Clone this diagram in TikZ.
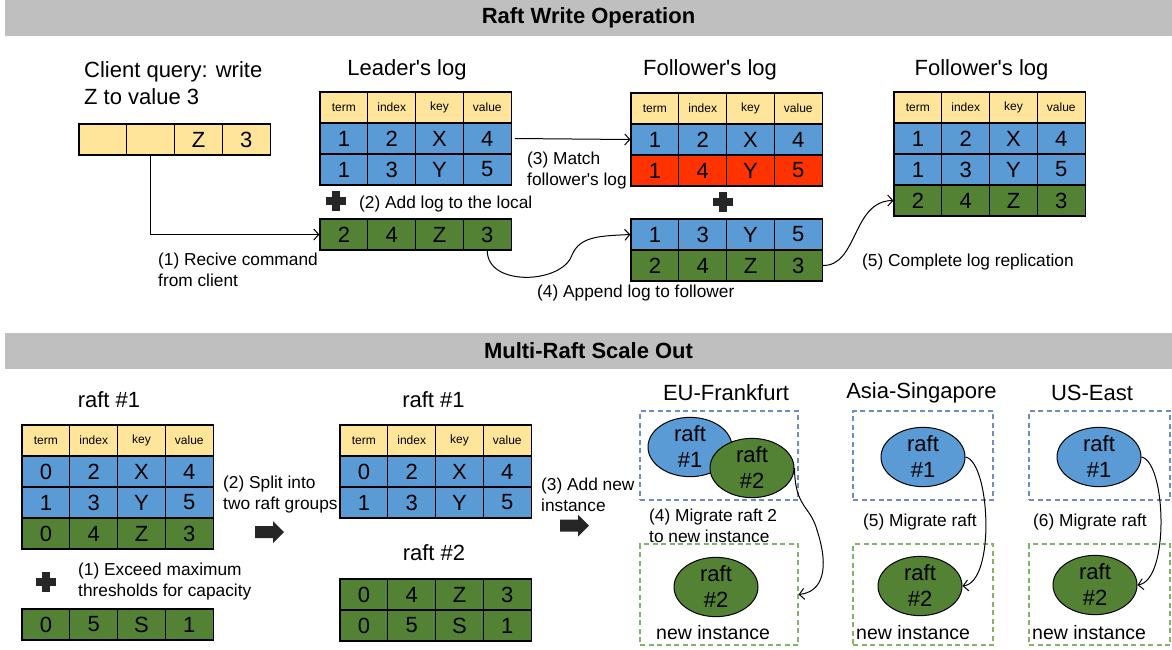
\documentclass[tikz,border=0pt]{standalone}
\usepackage{fontspec}
\setmainfont{Liberation Sans}[Ligatures=TeXOff]
\usetikzlibrary{arrows.meta,positioning,shapes.geometric}

\definecolor{logyellow}{HTML}{FFE599}
\definecolor{logblue}{HTML}{5B9BD5}
\definecolor{loggreen}{HTML}{548235}
\definecolor{logred}{HTML}{FF3300}
\definecolor{bargray}{HTML}{BFBFBF}
\definecolor{zoneblue}{HTML}{6C8EBF}
\definecolor{zonegreen}{HTML}{82B366}

\newcommand{\celltxt}{\fontsize{22}{22}\selectfont}
\newcommand{\hdrtxt}{\fontsize{12}{12}\selectfont}
\newcommand{\labeltxt}{\fontsize{22}{27}\selectfont}
\newcommand{\notetxt}{\fontsize{17.3}{21}\selectfont}
\newcommand{\insttxt}{\fontsize{19.5}{22}\selectfont}
\newcommand{\rafttxt}{\fontsize{22}{26}\selectfont}

% one row of a log: name, left x, top y, cell style, four entries
\newcommand{\logrow}[5]{%
  \foreach \v [count=\i] in {#5} {
    \node[#4] (#1-\i) at ({#2+(\i-0.5)*47.8},{#3+15.5}) {\v};
  }}
\newcommand{\plusmark}[2]{%
  \fill[black!85] ({#1-10},{#2-4}) rectangle ({#1+10},{#2+4});
  \fill[black!85] ({#1-4},{#2-10}) rectangle ({#1+4},{#2+10});}
\newcommand{\blockarrow}[2]{%
  \fill[black!85] (#1,{#2-6}) -- ({#1+18},{#2-6}) -- ({#1+18},{#2-11}) -- ({#1+29},#2)
    -- ({#1+18},{#2+11}) -- ({#1+18},{#2+6}) -- (#1,{#2+6}) -- cycle;}

\begin{document}
\begin{tikzpicture}[x=1pt, y=-1pt,
    cell/.style={draw, line width=1.2pt, minimum width=47.8pt, minimum height=31pt, inner sep=0pt, font=\celltxt},
    hdr/.style={cell, fill=logyellow, font=\hdrtxt},
    ylw/.style={cell, fill=logyellow},
    blu/.style={cell, fill=logblue},
    grn/.style={cell, fill=loggreen},
    rd/.style={cell, fill=logred},
    bar/.style={fill=bargray, minimum width=1167pt, minimum height=36pt, inner sep=0pt, font=\labeltxt\bfseries},
    lbl/.style={inner sep=0pt, font=\labeltxt},
    note/.style={inner sep=0pt, anchor=west, align=left, font=\notetxt},
    inst/.style={inner sep=0pt, anchor=west, font=\insttxt},
    raft/.style={ellipse, draw, line width=1pt, minimum width=84pt, minimum height=59pt, inner sep=0pt, align=center, font=\rafttxt},
    zone/.style={draw, line width=1.1pt, dash pattern=on 5pt off 3.5pt, inner sep=0pt},
    conn/.style={-{Straight Barb[length=5pt,width=11pt]}, line width=1pt}]

  \useasboundingbox (0,0) rectangle (1172,649);

  % Raft write operation
  \node[bar] (bar1) at (588.5,18) {Raft Write Operation};

  \node[lbl, anchor=west, align=left] (query) at (84,83.5) {Client query: write\\Z to value 3};
  \logrow{cl}{79}{124}{ylw}{{},{},Z,3}

  \node[lbl] (leadlbl) at (407,70) {Leader's log};
  \logrow{lh}{320}{92}{hdr}{term,index,key,value}
  \logrow{la}{320}{123}{blu}{1,2,X,4}
  \logrow{lb}{320}{154}{blu}{1,3,Y,5}
  \plusmark{336}{201}
  \node[note] (n2) at (359,204) {(2) Add log to the local};
  \logrow{lg}{320}{219}{grn}{2,4,Z,3}

  \node[lbl] (fol1lbl) at (710,70) {Follower's log};
  \logrow{fh}{631}{93}{hdr}{term,index,key,value}
  \logrow{fa}{631}{124}{blu}{1,2,X,4}
  \logrow{fr}{631}{155}{rd}{1,4,Y,5}
  \plusmark{723}{202}
  \logrow{fb}{631}{219}{blu}{1,3,Y,5}
  \logrow{fg}{631}{250}{grn}{2,4,Z,3}

  \node[lbl] (fol2lbl) at (981.5,70) {Follower's log};
  \logrow{dh}{894}{92}{hdr}{term,index,key,value}
  \logrow{da}{894}{123}{blu}{1,2,X,4}
  \logrow{db}{894}{154}{blu}{1,3,Y,5}
  \logrow{dg}{894}{185}{grn}{2,4,Z,3}

  \node[note] (n1) at (158,269.5) {(1) Recive command\\from client};
  \node[note] (n3) at (527,170.5) {(3) Match\\follower's log};
  \node[note] (n4) at (537,293) {(4) Append log to follower};
  \node[note] (n5) at (862,262) {(5) Complete log replication};

  \coordinate (m4) at (572,255);
  \draw[conn] (cl-2.south) |- (lg-1.west);
  \draw[conn] ([xshift=3pt]la-4.east) -- (fa-1.west);
  \draw[conn] (lg-4.south) .. controls (487,287) and (562,284) .. (m4)
    .. controls (580,236) and (600,236) .. (fb-1.west);
  \draw[conn] (fg-4.east) .. controls (858,266) and (852,201) .. (dg-1.west);

  % Multi-raft scale out
  \node[bar] (bar2) at (588.5,351) {Multi-Raft Scale Out};

  \node[lbl] (r1lbl) at (109,400) {raft \#1};
  \logrow{ah}{22}{425}{hdr}{term,index,key,value}
  \logrow{aa}{22}{456}{blu}{0,2,X,4}
  \logrow{ab}{22}{487}{blu}{1,3,Y,5}
  \logrow{ag}{22}{518}{grn}{0,4,Z,3}
  \plusmark{46}{582}
  \node[note] (e1) at (78,581.5) {(1) Exceed maximum\\thresholds for capacity};
  \logrow{as}{22}{609}{grn}{0,5,S,1}

  \node[note] (e2) at (223,495) {(2) Split into\\two raft groups};
  \blockarrow{255}{532}

  \node[lbl] (r1blbl) at (433.5,400) {raft \#1};
  \logrow{bh}{340}{425}{hdr}{term,index,key,value}
  \logrow{ba}{340}{456}{blu}{0,2,X,4}
  \logrow{bb}{340}{487}{blu}{1,3,Y,5}
  \node[lbl] (r2lbl) at (434,553) {raft \#2};
  \logrow{ca}{340}{579}{grn}{0,4,Z,3}
  \logrow{cb}{340}{610}{grn}{0,5,S,1}

  \node[note] (e3) at (541,495) {(3) Add new\\instance};
  \blockarrow{560}{525.5}

  % regions
  \node[lbl] (eulbl) at (726,393) {EU-Frankfurt};
  \node[lbl] (aslbl) at (921.5,393) {Asia-Singapore};
  \node[lbl] (uslbl) at (1092,393) {US-East};

  \node[zone, draw=zoneblue, minimum width=158pt, minimum height=89pt] (eutop) at (719,455.5) {};
  \node[zone, draw=zonegreen, minimum width=158pt, minimum height=101pt] (eunew) at (719,594.5) {};
  \node[zone, draw=zoneblue, minimum width=140pt, minimum height=89pt] (astop) at (923,455.5) {};
  \node[zone, draw=zonegreen, minimum width=140pt, minimum height=101pt] (asnew) at (923,594.5) {};
  \node[zone, draw=zoneblue, minimum width=141pt, minimum height=89pt] (ustop) at (1099.5,455.5) {};
  \node[zone, draw=zonegreen, minimum width=141pt, minimum height=101pt] (usnew) at (1099.5,594.5) {};

  \node[raft, fill=logblue] (eu1) at (690,447) {raft\\\#1};
  \node[raft, fill=loggreen] (eu2) at (752,468) {raft\\\#2};
  \node[raft, fill=loggreen] (eun) at (716,587) {raft\\\#2};
  \node[raft, fill=logblue] (as1) at (923,457) {raft\\\#1};
  \node[raft, fill=loggreen] (asn) at (920,586) {raft\\\#2};
  \node[raft, fill=logblue] (us1) at (1099,457) {raft\\\#1};
  \node[raft, fill=loggreen] (usn) at (1095,585) {raft\\\#2};

  \node[note] (e4) at (649,526) {(4) Migrate raft 2\\to new instance};
  \node[note] (e5) at (863,522) {(5) Migrate raft};
  \node[note] (e6) at (1033,522) {(6) Migrate raft};
  \node[inst] (i1) at (656,633) {new instance};
  \node[inst] (i2) at (856,633) {new instance};
  \node[inst] (i3) at (1032,633) {new instance};

  \coordinate (m6) at (817,530);
  \draw[conn] (eu2.east) .. controls (795,508) and (810,505) .. (m6)
    .. controls (830,570) and (822,592) .. (eunew.east);
  \draw[conn] (as1.east) .. controls (990,462) and (996,582) .. (asn.east);
  \draw[conn] (us1.east) .. controls (1166,462) and (1170,580) .. (usn.east);
\end{tikzpicture}
\end{document}
